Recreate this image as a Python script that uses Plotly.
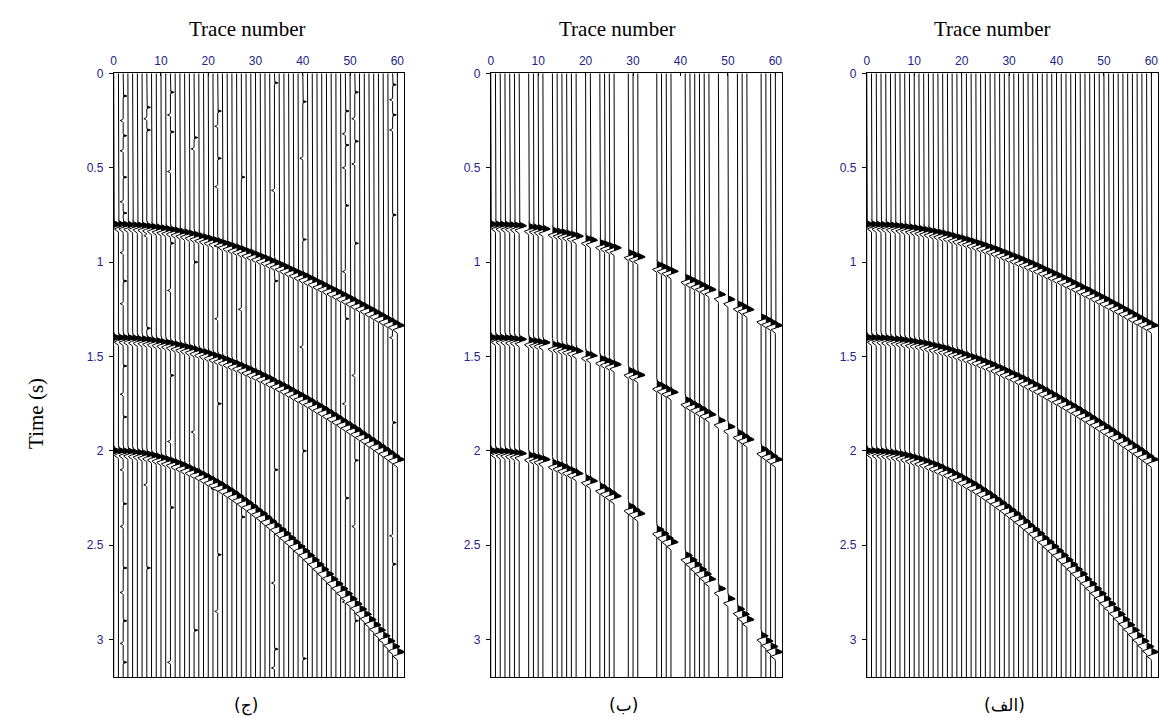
import numpy as np
import plotly.graph_objects as go

# ---------------- data ----------------
trace_numbers = list(range(0, 61))

# arrival time (s) of each reflection on every trace 0..60
event1_times = [0.800, 0.800, 0.801, 0.802, 0.803, 0.805, 0.807, 0.810, 0.813, 0.816,
                0.820, 0.824, 0.828, 0.833, 0.838, 0.843, 0.849, 0.855, 0.862, 0.869,
                0.876, 0.883, 0.891, 0.899, 0.907, 0.916, 0.924, 0.933, 0.943, 0.952,
                0.962, 0.972, 0.982, 0.993, 1.003, 1.014, 1.025, 1.037, 1.048, 1.060,
                1.071, 1.083, 1.095, 1.108, 1.120, 1.133, 1.145, 1.158, 1.171, 1.184,
                1.197, 1.211, 1.224, 1.237, 1.251, 1.265, 1.279, 1.293, 1.307, 1.321,
                1.335]
event2_times = [1.400, 1.400, 1.401, 1.402, 1.404, 1.406, 1.408, 1.411, 1.414, 1.418,
                1.422, 1.426, 1.431, 1.437, 1.443, 1.449, 1.455, 1.462, 1.470, 1.477,
                1.486, 1.494, 1.503, 1.512, 1.522, 1.532, 1.542, 1.552, 1.563, 1.575,
                1.586, 1.598, 1.610, 1.622, 1.635, 1.648, 1.661, 1.675, 1.689, 1.703,
                1.717, 1.731, 1.746, 1.761, 1.776, 1.792, 1.807, 1.823, 1.839, 1.855,
                1.872, 1.888, 1.905, 1.922, 1.939, 1.956, 1.974, 1.991, 2.009, 2.027,
                2.045]
event3_times = [2.000, 2.000, 2.002, 2.003, 2.006, 2.009, 2.013, 2.018, 2.024, 2.030,
                2.037, 2.045, 2.053, 2.062, 2.072, 2.083, 2.094, 2.106, 2.118, 2.131,
                2.145, 2.159, 2.174, 2.189, 2.205, 2.222, 2.239, 2.257, 2.275, 2.294,
                2.313, 2.332, 2.353, 2.373, 2.394, 2.416, 2.438, 2.460, 2.483, 2.506,
                2.529, 2.553, 2.577, 2.602, 2.627, 2.652, 2.678, 2.704, 2.730, 2.756,
                2.783, 2.810, 2.838, 2.865, 2.893, 2.921, 2.949, 2.978, 3.007, 3.036,
                3.065]
event_times = [event1_times, event2_times, event3_times]

# traces absent in the middle panel (ب)
missing_b = [7, 12, 19, 22, 27, 28, 32, 33, 34, 39, 40, 47, 49, 51, 55, 56]

# noise spikes in the left panel (ج)
noise_traces = [2, 7, 12, 17, 22, 27, 34, 40, 49, 51, 59]
noise_times = [
    [0.12, 0.25, 0.33, 0.41, 0.55, 0.68, 0.74, 0.95, 1.10, 1.22, 1.55, 1.70,
     1.82, 2.10, 2.28, 2.40, 2.62, 2.75, 2.90, 3.02, 3.12],
    [0.18, 0.24, 0.30, 0.86, 1.35, 2.18, 2.62],
    [0.10, 0.22, 0.31, 0.52, 0.90, 1.15, 1.60, 1.95, 2.30, 3.12],
    [0.34, 0.40, 1.00, 1.90, 2.95],
    [0.20, 0.28, 0.45, 0.60, 0.92, 1.30, 1.75, 2.20, 2.55, 2.85],
    [0.55, 1.25, 2.35],
    [0.05, 0.62, 1.10, 1.62, 2.10, 2.70, 3.05, 3.15],
    [0.15, 0.45, 0.88, 1.45, 2.00, 2.50, 3.10],
    [0.20, 0.32, 0.38, 0.50, 0.70, 1.05, 1.30, 1.75, 2.25, 2.80],
    [0.10, 0.24, 0.36, 0.48, 0.90, 1.60, 2.05, 2.40, 2.90],
    [0.06, 0.14, 0.22, 0.30, 0.75, 1.40, 1.85, 2.45, 2.60],
]

time_ticks = [0, 0.5, 1, 1.5, 2, 2.5, 3]
trace_ticks = [0, 10, 20, 30, 40, 50, 60]
panel_labels = ["(ج)", "(ب)", "(الف)"]
x_title = "Trace number"
y_title = "Time (s)"

# ---------------- rendering ----------------
DT = 0.002
T = np.arange(0, 3.2 + DT / 2, DT)
GAIN = 1.55


def wavelet(tau):
    return np.exp(-(tau / 0.012) ** 2) - 0.6 * np.exp(-((tau - 0.023) / 0.009) ** 2)


def spike(tau):
    return np.exp(-(tau / 0.004) ** 2)


def build(traces, noise):
    lx, ly, fx, fy = [], [], [], []
    for k in traces:
        s = np.zeros_like(T)
        for ev in event_times:
            s += wavelet(T - ev[k])
        for j, tn in enumerate(noise.get(k, [])):
            s += (0.5 if j % 2 == 0 else -0.4) * spike(T - tn)
        x = k + GAIN * s
        keep = np.abs(s) > 1e-3
        keep = keep | np.roll(keep, 1) | np.roll(keep, -1)
        keep[0] = keep[-1] = True
        lx += np.round(x[keep], 3).tolist() + [None]
        ly += np.round(T[keep], 4).tolist() + [None]
        pos = s > 1e-3
        i = 0
        n = len(s)
        while i < n:
            if pos[i]:
                j = i
                while j + 1 < n and pos[j + 1]:
                    j += 1
                if s[i:j + 1].max() > 0.03:
                    a = max(i - 1, 0)
                    b = min(j + 1, n - 1)
                    xs = [k] + np.round(k + GAIN * s[i:j + 1], 3).tolist() + [k]
                    ys = [round(T[a], 4)] + np.round(T[i:j + 1], 4).tolist() + [round(T[b], 4)]
                    fx += xs + [None]
                    fy += ys + [None]
                i = j + 1
            else:
                i += 1
    return lx, ly, fx, fy


noise_c = {tr: tl for tr, tl in zip(noise_traces, noise_times)}
panels = [
    (trace_numbers, noise_c),
    ([k for k in trace_numbers if k not in missing_b], {}),
    (trace_numbers, {}),
]

W, H = 1160, 718
x_px = [(111, 402), (489, 781), (866, 1158)]
y_top, y_bot = 67, 677

fig = go.Figure()
for p, (trs, nz) in enumerate(panels):
    lx, ly, fx, fy = build(trs, nz)
    suf = "" if p == 0 else str(p + 1)
    fig.add_trace(go.Scatter(x=fx, y=fy, mode="lines", fill="toself",
                             fillcolor="black", line=dict(width=0, color="black"),
                             hoverinfo="skip", showlegend=False,
                             xaxis="x" + suf, yaxis="y" + suf))
    fig.add_trace(go.Scatter(x=lx, y=ly, mode="lines",
                             line=dict(width=1, color="black"),
                             hoverinfo="skip", showlegend=False,
                             xaxis="x" + suf, yaxis="y" + suf))

tick_font = dict(family="Liberation Sans, Arial", size=12, color="#23238c")
layout = dict(width=W, height=H, margin=dict(l=0, r=0, t=0, b=0),
              paper_bgcolor="white", plot_bgcolor="white")
ydom = [1 - y_bot / H, 1 - y_top / H]
for p in range(3):
    suf = "" if p == 0 else str(p + 1)
    x0, x1 = x_px[p]
    layout["xaxis" + suf] = dict(
        domain=[x0 / W, min(x1 / W, 1.0)], range=[0, 61.4], side="top",
        anchor="y" + suf, tickvals=trace_ticks, ticktext=[str(v) for v in trace_ticks],
        ticks="inside", ticklen=3, tickcolor="black", showgrid=False, zeroline=False,
        showline=True, linecolor="black", linewidth=1, mirror=True, tickfont=tick_font,
        ticklabelstandoff=3)
    layout["yaxis" + suf] = dict(
        domain=ydom, range=[3.2, 0], anchor="x" + suf,
        tickvals=time_ticks, ticktext=["0", "0.5", "1", "1.5", "2", "2.5", "3"],
        ticks="outside", ticklen=4, tickcolor="black", showgrid=False, zeroline=False,
        showline=True, linecolor="black", linewidth=1, mirror=True, tickfont=tick_font,
        ticklabelstandoff=3)
fig.update_layout(**layout)

serif = "Liberation Serif, Times New Roman, DejaVu Sans"
ann = []
for cx in [245, 616, 992]:
    ann.append(dict(x=cx / W, y=1 - 22 / H, xref="paper", yref="paper", text=x_title,
                    showarrow=False, font=dict(family=serif, size=21, color="black"),
                    xanchor="center", yanchor="middle"))
ann.append(dict(x=33 / W, y=1 - 410 / H, xref="paper", yref="paper", text=y_title,
                showarrow=False, textangle=-90,
                font=dict(family=serif, size=21, color="black"),
                xanchor="center", yanchor="middle"))
for cx, lab in zip([244, 622, 1004], panel_labels):
    ann.append(dict(x=cx / W, y=1 - 705 / H, xref="paper", yref="paper", text=lab,
                    showarrow=False, font=dict(family="DejaVu Sans", size=17, color="black"),
                    xanchor="center", yanchor="middle"))
fig.update_layout(annotations=ann)

fig.write_html("out.html")
